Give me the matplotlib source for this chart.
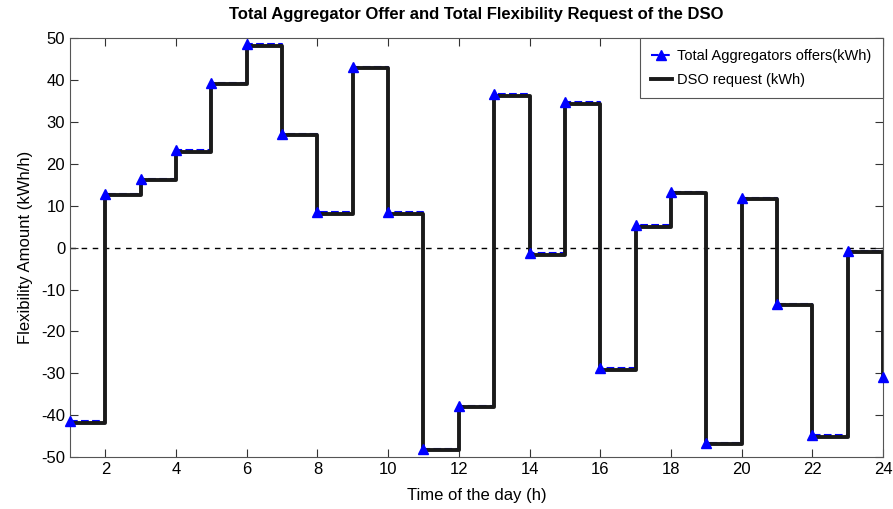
import matplotlib
matplotlib.use("Agg")
import matplotlib.pyplot as plt

hours = list(range(1, 25))
dso_request = [-41.8, 12.6, 16.1, 22.9, 39.1, 48.2, 26.9, 8.1, 42.8, 8.1, -48.4, -38.1,
               36.3, -1.7, 34.4, -29.1, 5.0, 13.0, -46.9, 11.5, -13.8, -45.1, -1.0, -31.1]
agg_offers = [-41.5, 12.9, 16.4, 23.2, 39.4, 48.5, 27.2, 8.4, 43.1, 8.4, -48.1, -37.8,
              36.6, -1.4, 34.7, -28.8, 5.3, 13.3, -46.6, 11.8, -13.5, -44.8, -0.7, -30.8]
xticks = list(range(2, 25, 2))
yticks = list(range(-50, 51, 10))

plt.rcParams['font.family'] = ['Liberation Sans', 'DejaVu Sans']
plt.rcParams['axes.unicode_minus'] = False
fig = plt.figure(figsize=(8.93, 5.09), dpi=100)
ax = fig.add_axes([0.0784, 0.102, 0.9104, 0.823])

ax.axhline(0, color='black', linestyle=(0, (4, 4)), linewidth=1.0, zorder=1)
ax.step(hours, agg_offers, where='post', color='blue', linestyle='--', linewidth=1.5,
        zorder=2)
ax.plot(hours, agg_offers, linestyle='none', marker='^', markersize=7.5, color='blue',
        zorder=4, clip_on=False)
ax.step(hours, dso_request, where='post', color='#1a1a1a', linewidth=2.8, zorder=3)

h1, = ax.plot([], [], color='blue', linestyle='--', marker='^', markersize=7.5, linewidth=1.5)
h2, = ax.plot([], [], color='#1a1a1a', linewidth=2.8)
leg = ax.legend([h1, h2], ['Total Aggregators offers(kWh)', 'DSO request (kWh)'],
                loc='upper right', fontsize=10.5, fancybox=False, framealpha=1,
                edgecolor='#555555', borderaxespad=0.0, handlelength=1.4,
                handletextpad=0.4, labelspacing=0.65, borderpad=0.75,
                bbox_to_anchor=(0.9995, 0.9995))
leg.get_frame().set_linewidth(0.8)

ax.set_xlim(1, 24)
ax.set_ylim(-50, 50)
ax.set_xticks(xticks)
ax.set_yticks(yticks)
ax.tick_params(direction='in', top=True, right=True, length=6, width=0.8,
               labelsize=12, colors='#333333', labelcolor='black')
for s in ax.spines.values():
    s.set_color('#555555')
    s.set_linewidth(0.8)

ax.set_xlabel('Time of the day (h)', fontsize=12, labelpad=8)
ax.set_ylabel('Flexibility Amount (kWh/h)', fontsize=12, labelpad=6)
ax.set_title('Total Aggregator Offer and Total Flexibility Request of the DSO',
             fontsize=12, fontweight='bold', pad=14)

fig.savefig('out.png', dpi=100)
